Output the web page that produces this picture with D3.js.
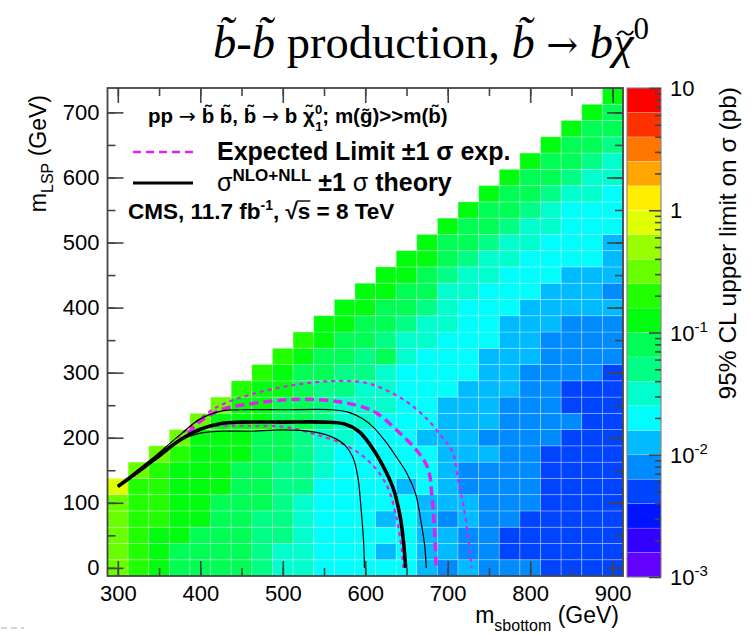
<!DOCTYPE html>
<html lang="en">
<head>
<meta charset="UTF-8" />
<title>sbottom limit</title>
<style>
  body { margin: 0; background: #fff; }
  svg text { font-family: "Liberation Sans", Arial, sans-serif; fill: #000; }
</style>
<script src="https://cdn.jsdelivr.net/npm/d3@7/dist/d3.min.js"></script>
</head>
<body>
<div id="chart"></div>
<script>

// sbottom mass bins (GeV); each column holds mLSP = 0, 25, 50 ... up to mSbottom - 175
var mSbottom = [300, 325, 350, 375, 400, 425, 450, 475, 500, 525, 550, 575, 600,
                625, 650, 675, 700, 725, 750, 775, 800, 825, 850, 875, 900];
var lspStep = 25;

// 95% CL upper limit on sigma (pb), one list per sbottom mass, from mLSP = 0 upwards
var limitPb = [
  [0.33, 0.31, 0.30, 0.30, 0.32, 0.78],
  [0.21, 0.20, 0.20, 0.19, 0.20, 0.22, 0.30],
  [0.14, 0.15, 0.15, 0.17, 0.18, 0.18, 0.19, 0.29],
  [0.095, 0.098, 0.12, 0.13, 0.13, 0.12, 0.13, 0.17, 0.27],
  [0.085, 0.09, 0.095, 0.11, 0.11, 0.12, 0.12, 0.13, 0.14, 0.27],
  [0.075, 0.08, 0.085, 0.085, 0.09, 0.105, 0.11, 0.11, 0.12, 0.13, 0.26],
  [0.068, 0.07, 0.072, 0.075, 0.078, 0.08, 0.09, 0.102, 0.105, 0.11, 0.12, 0.2],
  [0.055, 0.058, 0.06, 0.06, 0.065, 0.068, 0.072, 0.075, 0.085, 0.102, 0.11, 0.12, 0.19],
  [0.037, 0.038, 0.042, 0.045, 0.048, 0.05, 0.055, 0.065, 0.07, 0.075, 0.085, 0.105, 0.115, 0.18],
  [0.033, 0.034, 0.035, 0.036, 0.038, 0.042, 0.045, 0.048, 0.055, 0.065, 0.07, 0.075, 0.085, 0.11, 0.17],
  [0.023, 0.023, 0.024, 0.024, 0.024, 0.0245, 0.027, 0.03, 0.034, 0.042, 0.048, 0.055, 0.065, 0.08, 0.105, 0.13],
  [0.021, 0.022, 0.022, 0.023, 0.022, 0.023, 0.024, 0.024, 0.027, 0.03, 0.034, 0.042, 0.05, 0.065, 0.075, 0.105, 0.12],
  [0.019, 0.02, 0.02, 0.021, 0.02, 0.021, 0.022, 0.022, 0.023, 0.027, 0.03, 0.035, 0.042, 0.05, 0.065, 0.08, 0.105, 0.12],
  [0.017, 0.015, 0.017, 0.015, 0.018, 0.018, 0.019, 0.019, 0.02, 0.022, 0.027, 0.03, 0.034, 0.065, 0.055, 0.07, 0.085, 0.11, 0.13],
  [0.017, 0.017, 0.016, 0.017, 0.017, 0.015, 0.017, 0.018, 0.018, 0.019, 0.02, 0.021, 0.023, 0.027, 0.033, 0.045, 0.065, 0.08, 0.11, 0.13],
  [0.014, 0.014, 0.015, 0.014, 0.015, 0.016, 0.017, 0.017, 0.015, 0.017, 0.018, 0.019, 0.02, 0.022, 0.027, 0.033, 0.045, 0.065, 0.08, 0.105, 0.12],
  [0.0095, 0.012, 0.012, 0.0095, 0.013, 0.013, 0.014, 0.014, 0.014, 0.015, 0.015, 0.017, 0.018, 0.02, 0.022, 0.027, 0.03, 0.035, 0.045, 0.065, 0.08, 0.11],
  [0.011, 0.0095, 0.0095, 0.011, 0.011, 0.0095, 0.0095, 0.012, 0.012, 0.013, 0.013, 0.014, 0.016, 0.017, 0.018, 0.02, 0.023, 0.027, 0.033, 0.045, 0.065, 0.08, 0.11],
  [0.009, 0.009, 0.009, 0.0095, 0.009, 0.0095, 0.0095, 0.011, 0.0095, 0.011, 0.012, 0.012, 0.013, 0.014, 0.016, 0.017, 0.019, 0.022, 0.027, 0.033, 0.045, 0.065, 0.08, 0.11],
  [0.0085, 0.006, 0.006, 0.0085, 0.0085, 0.009, 0.0085, 0.009, 0.009, 0.009, 0.0095, 0.011, 0.011, 0.012, 0.013, 0.014, 0.016, 0.018, 0.021, 0.027, 0.033, 0.045, 0.065, 0.08, 0.11],
  [0.0075, 0.006, 0.006, 0.006, 0.0075, 0.008, 0.008, 0.008, 0.0085, 0.0085, 0.0085, 0.009, 0.009, 0.011, 0.012, 0.013, 0.014, 0.016, 0.018, 0.021, 0.027, 0.033, 0.045, 0.065, 0.08, 0.11],
  [0.0055, 0.0055, 0.0055, 0.0058, 0.0058, 0.006, 0.006, 0.006, 0.0068, 0.007, 0.0075, 0.0075, 0.008, 0.0085, 0.009, 0.011, 0.012, 0.014, 0.016, 0.018, 0.021, 0.027, 0.033, 0.045, 0.065, 0.08, 0.11],
  [0.005, 0.005, 0.0052, 0.0052, 0.0055, 0.0055, 0.0055, 0.0058, 0.006, 0.0065, 0.006, 0.006, 0.007, 0.0075, 0.008, 0.009, 0.011, 0.012, 0.014, 0.016, 0.018, 0.02, 0.023, 0.03, 0.045, 0.065, 0.08, 0.11],
  [0.0048, 0.0048, 0.005, 0.005, 0.005, 0.0052, 0.0052, 0.0055, 0.0055, 0.0058, 0.006, 0.006, 0.0068, 0.0075, 0.008, 0.009, 0.011, 0.012, 0.014, 0.016, 0.018, 0.02, 0.023, 0.028, 0.034, 0.045, 0.065, 0.08, 0.11],
  [0.0045, 0.0045, 0.0047, 0.0047, 0.0048, 0.005, 0.005, 0.0052, 0.0052, 0.0055, 0.0055, 0.0058, 0.006, 0.0068, 0.0075, 0.0085, 0.011, 0.0095, 0.012, 0.013, 0.015, 0.017, 0.019, 0.022, 0.028, 0.034, 0.045, 0.065, 0.08, 0.12]
];

// exclusion contours, [mSbottom, mLSP]
var observed = [[300,125],[325,148],[350,172],[375,196],[400,213],[425,222],[450,224],[500,224],
                [550,224],[575,221],[592,210],[606,189],[621,158],[634,122],[642,81],[646,45],[649,0]];
var theoryUp = [[300,125],[340,166],[375,204],[400,229],[425,241],[450,243],[500,243],[560,243],
                [580,239],[596,230],[610,216],[624,195],[638,170],[651,144],[661,114],[668,68],[672,35],[674,0]];
var theoryDown = [[300,125],[340,166],[375,196],[400,207],[425,210],[460,210],[500,212],[537,209],
                  [560,201],[575,189],[585,170],[591,140],[595,90],[598,40],[599,0]];
var expected = [[385,207],[400,225],[425,243],[460,252],[500,258],[530,259],[570,255],[600,246],
                [615,237],[638,212],[662,181],[676,153],[681,108],[684,58],[686,0]];
var expectedUp = [[372,200],[390,219],[420,247],[460,266],[513,281],[560,287],[602,284],[642,262],
                  [670,235],[692,203],[706,178],[713,132],[719,96],[725,45],[729,0]];
var expectedDown = [[390,210],[420,218],[460,218],[500,217],[537,206],[577,188],[605,163],[626,127],
                    [638,76],[644,30],[646,0]];

var xTicks = [300, 400, 500, 600, 700, 800, 900];
var yTicks = [0, 100, 200, 300, 400, 500, 600, 700];
var zTicks = [0.001, 0.01, 0.1, 1, 10];
var zTickExp = [-3, -2, -1, 0, 1];

var width = 751, height = 636;

var svg = d3.select("#chart").append("svg")
  .attr("width", width).attr("height", height)
  .style("background", "#fff");

var x = d3.scaleLinear().domain([287.5, 912.5]).range([107.5, 623]);
var y = d3.scaleLinear().domain([-12.5, 737.5]).range([576, 88]);

// ROOT "pretty" palette, 20 contour levels, log z
var nLevels = 20;
var palette = d3.range(nLevels).map(function(k) {
  var idx = Math.floor((k + 0.99) * 50 / nLevels);
  var hue = Math.max(0, 280 - (idx + 1) * 5.6);
  return d3.hsl(hue, 1, 0.5).formatHex();
});
var color = d3.scaleQuantize().domain([-3, 1]).range(palette);

// cells
var cells = [];
limitPb.forEach(function(col, i) {
  col.forEach(function(v, j) {
    cells.push({ m: mSbottom[i], l: j * lspStep, v: v });
  });
});

svg.append("g").selectAll("rect")
  .data(cells).enter().append("rect")
  .attr("x", function(d) { return x(d.m - 12.5); })
  .attr("y", function(d) { return y(d.l + 12.5); })
  .attr("width", function(d) { return x(d.m + 12.5) - x(d.m - 12.5); })
  .attr("height", function(d) { return y(d.l - 12.5) - y(d.l + 12.5); })
  .attr("fill", function(d) { return color(Math.log10(d.v)); })
  .attr("stroke", "rgba(255,255,255,0.35)")
  .attr("stroke-width", 0.8);

// contours
var line = d3.line()
  .x(function(d) { return x(d[0]); })
  .y(function(d) { return y(d[1]); })
  .curve(d3.curveCatmullRom.alpha(0.5));

var magenta = "#dd22ee";
var curves = svg.append("g").attr("fill", "none");
curves.append("path").attr("d", line(expectedUp))
  .attr("stroke", magenta).attr("stroke-width", 2.2).attr("stroke-dasharray", "4,4");
curves.append("path").attr("d", line(expectedDown))
  .attr("stroke", magenta).attr("stroke-width", 2.2).attr("stroke-dasharray", "4,4");
curves.append("path").attr("d", line(expected))
  .attr("stroke", magenta).attr("stroke-width", 3.5).attr("stroke-dasharray", "9,5");
curves.append("path").attr("d", line(theoryUp))
  .attr("stroke", "#000").attr("stroke-width", 1.2);
curves.append("path").attr("d", line(theoryDown))
  .attr("stroke", "#000").attr("stroke-width", 1.2);
curves.append("path").attr("d", line(observed))
  .attr("stroke", "#000").attr("stroke-width", 3.6);

// axes (ROOT style: ticks inside on all sides)
var minorX = d3.range(300, 901, 50);
var minorY = d3.range(0, 701, 50);
var axisCol = "#444";

function styleAxis(g) {
  g.select(".domain").remove();
  g.selectAll("line").attr("stroke", axisCol).attr("stroke-width", 1.6);
  g.selectAll("text").style("font-size", "22px").attr("fill", "#000");
}

svg.append("g").attr("transform", "translate(0," + y.range()[0] + ")")
  .call(d3.axisBottom(x).tickValues(minorX).tickSizeInner(-8).tickFormat(""))
  .call(styleAxis);
svg.append("g").attr("transform", "translate(0," + y.range()[0] + ")")
  .call(d3.axisBottom(x).tickValues(xTicks).tickSizeInner(-15).tickPadding(9).tickFormat(d3.format("d")))
  .call(styleAxis);
svg.append("g").attr("transform", "translate(0," + y.range()[1] + ")")
  .call(d3.axisTop(x).tickValues(minorX).tickSizeInner(-8).tickFormat(""))
  .call(styleAxis);
svg.append("g").attr("transform", "translate(0," + y.range()[1] + ")")
  .call(d3.axisTop(x).tickValues(xTicks).tickSizeInner(-15).tickFormat(""))
  .call(styleAxis);

svg.append("g").attr("transform", "translate(" + x.range()[0] + ",0)")
  .call(d3.axisLeft(y).tickValues(minorY).tickSizeInner(-8).tickFormat(""))
  .call(styleAxis);
svg.append("g").attr("transform", "translate(" + x.range()[0] + ",0)")
  .call(d3.axisLeft(y).tickValues(yTicks).tickSizeInner(-16).tickPadding(8).tickFormat(d3.format("d")))
  .call(styleAxis);
svg.append("g").attr("transform", "translate(" + x.range()[1] + ",0)")
  .call(d3.axisRight(y).tickValues(minorY).tickSizeInner(-8).tickFormat(""))
  .call(styleAxis);
svg.append("g").attr("transform", "translate(" + x.range()[1] + ",0)")
  .call(d3.axisRight(y).tickValues(yTicks).tickSizeInner(-16).tickFormat(""))
  .call(styleAxis);

// frame
svg.append("rect")
  .attr("x", x.range()[0]).attr("y", y.range()[1])
  .attr("width", x.range()[1] - x.range()[0]).attr("height", y.range()[0] - y.range()[1])
  .attr("fill", "none").attr("stroke", axisCol).attr("stroke-width", 1.8);

// axis titles
var xt = svg.append("text").attr("x", 619).attr("y", 623)
  .attr("text-anchor", "end").style("font-size", "23px");
xt.append("tspan").text("m");
xt.append("tspan").attr("dy", 8).style("font-size", "16px").text("sbottom");
xt.append("tspan").attr("dy", -8).text(" (GeV)");

var yt = svg.append("text").attr("transform", "translate(46,95) rotate(-90)")
  .attr("text-anchor", "end").style("font-size", "23px");
yt.append("tspan").text("m");
yt.append("tspan").attr("dy", 7).style("font-size", "16px").text("LSP");
yt.append("tspan").attr("dy", -7).text(" (GeV)");

// colour bar
var z = d3.scaleLog().domain([0.001, 10]).range([577, 88]);
var barX = 627, barW = 34;
var bands = d3.range(nLevels).map(function(k) {
  return { lo: Math.pow(10, -3 + k * 0.2), hi: Math.pow(10, -3 + (k + 1) * 0.2), c: palette[k] };
});
svg.append("g").selectAll("rect")
  .data(bands).enter().append("rect")
  .attr("x", barX).attr("width", barW)
  .attr("y", function(d) { return z(d.hi); })
  .attr("height", function(d) { return z(d.lo) - z(d.hi); })
  .attr("fill", function(d) { return d.c; })
  .attr("stroke", "rgba(255,255,255,0.3)").attr("stroke-width", 0.6);
svg.append("rect").attr("x", barX).attr("y", 88).attr("width", barW).attr("height", 489)
  .attr("fill", "none").attr("stroke", "#777").attr("stroke-width", 1);

var minorZ = [];
[0.001, 0.01, 0.1, 1].forEach(function(d) {
  for (var m = 2; m <= 9; m++) minorZ.push(d * m);
});
svg.append("g").attr("transform", "translate(" + (barX + barW) + ",0)")
  .call(d3.axisRight(z).tickValues(minorZ).tickSizeInner(-6).tickFormat(""))
  .call(styleAxis);
svg.append("g").attr("transform", "translate(" + (barX + barW) + ",0)")
  .call(d3.axisRight(z).tickValues(zTicks).tickSizeInner(-12).tickFormat(""))
  .call(styleAxis);

var zl = svg.append("g").selectAll("text")
  .data(zTicks).enter().append("text")
  .attr("x", barX + barW + 9)
  .attr("y", function(d) { return z(d) + 8; })
  .style("font-size", "22px");
zl.each(function(d, i) {
  var t = d3.select(this);
  var e = zTickExp[i];
  if (e === 0) { t.text("1"); return; }
  t.append("tspan").text("10");
  if (e < 0) t.append("tspan").attr("dy", -9).style("font-size", "15px").text("-" + Math.abs(e));
});

svg.append("text").attr("transform", "translate(736,87) rotate(-90)")
  .attr("text-anchor", "end").style("font-size", "24.5px")
  .text("95% CL upper limit on \u03c3 (pb)");

// title
var serif = "'Liberation Serif', 'DejaVu Serif', serif";
var title = svg.append("text").attr("x", 431).attr("y", 58)
  .attr("text-anchor", "middle")
  .style("font-family", serif)
  .style("font-size", "46.5px");
title.append("tspan").style("font-style", "italic").text("b\u0303");
title.append("tspan").text("-");
title.append("tspan").style("font-style", "italic").text("b\u0303");
title.append("tspan").text(" production, ");
title.append("tspan").style("font-style", "italic").text("b\u0303");
title.append("tspan").text(" ");
title.append("tspan").style("font-family", "'DejaVu Serif', serif").style("font-size", "38px").text("\u2192");
title.append("tspan").text(" ");
title.append("tspan").style("font-style", "italic").text("b");
var chi = title.append("tspan").style("font-style", "italic").text("\u03c7");
title.append("tspan").attr("dy", -19).style("font-size", "31px").text("0");

// tilde over chi, drawn as a small wave
var pieces = title.selectAll("tspan").nodes();
var chiIndex = 0;
for (var p = 0; p < pieces.length; p++) {
  if (pieces[p] === chi.node()) break;
  chiIndex += pieces[p].textContent.length;
}
var chiBox = title.node().getExtentOfChar(chiIndex);
var tx = chiBox.x + chiBox.width / 2 + 2, ty = 33;
svg.append("path")
  .attr("d", "M" + (tx - 8) + "," + (ty + 2) +
             " C" + (tx - 5) + "," + (ty - 3) + " " + (tx - 2) + "," + (ty - 2) + " " + tx + "," + ty +
             " S" + (tx + 5) + "," + (ty + 3) + " " + (tx + 8) + "," + (ty - 2))
  .attr("fill", "none").attr("stroke", "#000").attr("stroke-width", 1.8);

// legend
var leg = svg.append("g").style("font-weight", "bold");
var l1 = leg.append("text").attr("x", 148).attr("y", 123).style("font-size", "20.5px");
l1.append("tspan").text("pp ");
l1.append("tspan").style("font-family", "'DejaVu Sans', sans-serif").style("font-weight", "normal").text("\u2192");
l1.append("tspan").text(" b\u0303 b\u0303, b\u0303 ");
l1.append("tspan").style("font-family", "'DejaVu Sans', sans-serif").style("font-weight", "normal").text("\u2192");
l1.append("tspan").text(" b \u03c7\u0303");
l1.append("tspan").attr("dy", -9).style("font-size", "13px").text("0");
l1.append("tspan").attr("dx", -7).attr("dy", 17).style("font-size", "13px").text("1");
l1.append("tspan").attr("dy", -8).text("; m(g\u0303)>>m(b\u0303)");

leg.append("line").attr("x1", 133).attr("x2", 193).attr("y1", 152).attr("y2", 152)
  .attr("stroke", magenta).attr("stroke-width", 2.6).attr("stroke-dasharray", "8,5");
leg.append("text").attr("x", 217).attr("y", 160).style("font-size", "25px")
  .text("Expected Limit \u00b11 \u03c3 exp.");

leg.append("line").attr("x1", 133).attr("x2", 193).attr("y1", 183).attr("y2", 183)
  .attr("stroke", "#000").attr("stroke-width", 3);
var l3 = leg.append("text").attr("x", 217).attr("y", 191).style("font-size", "25px");
l3.append("tspan").style("font-weight", "normal").text("\u03c3");
l3.append("tspan").attr("dy", -10).style("font-size", "17px").text("NLO+NLL");
l3.append("tspan").attr("dy", 10).text(" \u00b11 ");
l3.append("tspan").style("font-weight", "normal").text("\u03c3");
l3.append("tspan").text(" theory");

var l4 = leg.append("text").attr("x", 128).attr("y", 219).style("font-size", "22.5px");
l4.append("tspan").text("CMS, 11.7 fb");
l4.append("tspan").attr("dy", -9).style("font-size", "14px").text("-1");
l4.append("tspan").attr("dy", 9).text(", \u221as = 8 TeV");
// radical bar over s
var sBox = l4.node().getExtentOfChar(17);
leg.append("line").attr("x1", sBox.x - 1).attr("x2", sBox.x + sBox.width)
  .attr("y1", sBox.y + 2).attr("y2", sBox.y + 2)
  .attr("stroke", "#000").attr("stroke-width", 1.4);

// stray marks at lower left of the original slide
svg.append("line").attr("x1", 1).attr("x2", 24).attr("y1", 628).attr("y2", 628)
  .attr("stroke", "#9ab").attr("stroke-width", 1).attr("stroke-dasharray", "6,4");

</script>
</body>
</html>
